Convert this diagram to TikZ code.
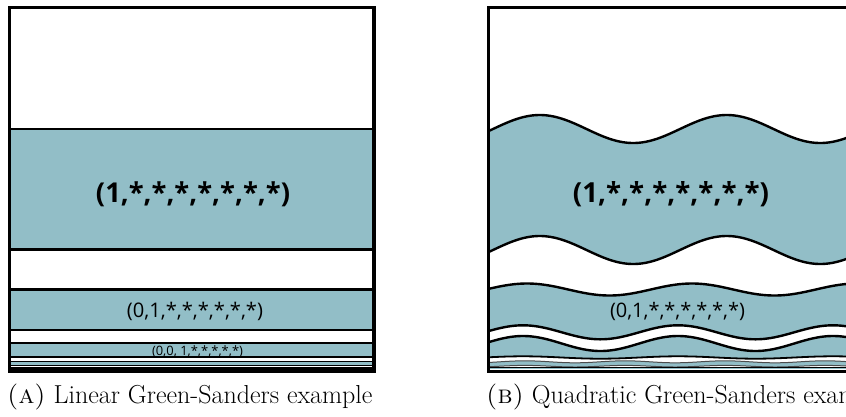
\documentclass[tikz,border=0pt]{standalone}
\usepackage{fontspec}
\newfontfamily\labfont{Open Sans}
\definecolor{bandteal}{RGB}{146,190,199}
\tikzset{
  bline/.style={draw=black,line width=#1},
  bline/.default=2.4pt,
  pframe/.style={draw=black,line width=3.2pt},
  lab/.style={inner sep=0pt,font=\labfont},
  captxt/.style={inner sep=0pt,anchor=base west,font=\fontsize{26}{30}\selectfont},
  declare function={
    wa(\x)=sin(1.92513*(\x-493));
    wb(\x)=sin(2.18182*(\x-485.75));
    wc(\x)=sin(2.32258*(\x-484.25));
    wd(\x)=sin(3.6*(\x-500));
  }
}
\begin{document}
\begin{tikzpicture}[x=1pt,y=-1pt]
\clip (0,0) rectangle (846,416);
\fill[white] (0,0) rectangle (846,416);
% ---------- left panel (linear) ----------
\foreach \t/\b/\w in {128.7/249.3/2.4pt, 289.6/329.8/2.4pt, 343.2/356.6/2.0pt, 361.1/365.5/1.2pt, 367.0/368.5/0.7pt, 369.0/369.6/0.4pt}{
  \fill[bandteal] (9.5,\t) rectangle (374,\b);
  \draw[bline=\w] (9.5,\t) -- (374,\t);
  \draw[bline=\w] (9.5,\b) -- (374,\b);
}
\node[lab] (la) at (193,194) {\resizebox{194pt}{!}{\bfseries (1,*,*,*,*,*,*,*)}};
\node[lab] (lb) at (195,311) {\resizebox{136pt}{!}{(0,1,*,*,*,*,*,*)}};
\node[lab] (lc) at (197.5,351.5) {\resizebox{91pt}{!}{(0,0, 1,*,*,*,*,*)}};
\draw[pframe] (9.5,7.5) rectangle (374,371.5);
% ---------- right panel (quadratic) ----------
\fill[bandteal] plot[domain=488:858,samples=160] (\x,{129-14*wa(\x)})
  -- plot[domain=858:488,samples=160] (\x,{250-14*wa(\x)}) -- cycle;
\draw[bline] plot[domain=488:858,samples=160] (\x,{129-14*wa(\x)});
\draw[bline] plot[domain=488:858,samples=160] (\x,{250-14*wa(\x)});
\fill[bandteal] plot[domain=488:858,samples=160] (\x,{289.5-6*wb(\x)})
  -- plot[domain=858:488,samples=160] (\x,{332.3-7*wc(\x)}) -- cycle;
\draw[bline] plot[domain=488:858,samples=160] (\x,{289.5-6*wb(\x)});
\draw[bline] plot[domain=488:858,samples=160] (\x,{332.3-7*wc(\x)});
\fill[bandteal] plot[domain=488:858,samples=160] (\x,{343.5-7.5*wc(\x)})
  -- plot[domain=858:488,samples=160] (\x,{357.5-1.2*wc(\x)}) -- cycle;
\draw[bline] plot[domain=488:858,samples=160] (\x,{343.5-7.5*wc(\x)});
\draw[bline=1.8pt] plot[domain=488:858,samples=160] (\x,{357.5-1.2*wc(\x)});
\fill[bandteal] plot[domain=488:858,samples=160] (\x,{361.8-1.0*wd(\x)})
  -- plot[domain=858:488,samples=160] (\x,{366.2-0.8*wd(\x)}) -- cycle;
\draw[bline=1.0pt,black!70] plot[domain=488:858,samples=160] (\x,{361.8-1.0*wd(\x)});
\draw[bline=1.0pt,black!70] plot[domain=488:858,samples=160] (\x,{366.2-0.8*wd(\x)});
\fill[bandteal] (488,367.6) rectangle (858,369.0);
\draw[bline=0.6pt] (488,367.6) -- (858,367.6);
\node[lab] (ra) at (671,194) {\resizebox{196pt}{!}{\bfseries (1,*,*,*,*,*,*,*)}};
\node[lab] (rb) at (677.5,311) {\resizebox{135pt}{!}{(0,1,*,*,*,*,*,*)}};
\draw[pframe] (488.8,7.5) rectangle (855,371.5);
% ---------- captions ----------
\node[captxt] (ca) at (7,403) {\textsc{(a)} Linear Green-Sanders example};
\node[captxt] (cb) at (486,403) {\textsc{(b)} Quadratic Green-Sanders example};
\end{tikzpicture}
\end{document}
